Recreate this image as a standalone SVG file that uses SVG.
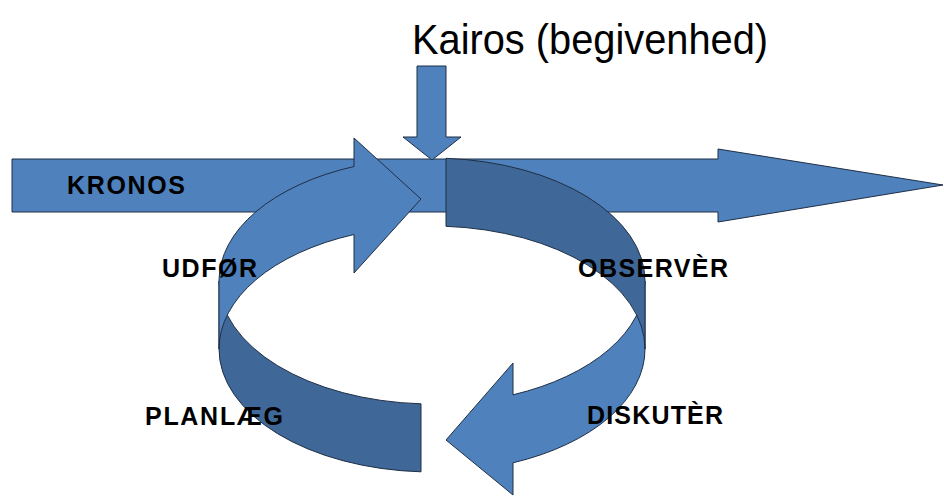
<svg xmlns="http://www.w3.org/2000/svg" width="944" height="497" viewBox="0 0 944 497">
<style>
.light{fill:#4F81BD;stroke:#1F2F45;stroke-width:1;stroke-linejoin:miter}
.dark{fill:#3F6797;stroke:#1F2F45;stroke-width:1;stroke-linejoin:miter}
.lbl{font-family:"Liberation Sans",Arial,sans-serif;font-weight:bold;font-size:25px;fill:#000}
.title{font-family:"Liberation Sans",Arial,sans-serif;font-size:42px;fill:#000}
</style>
<rect width="944" height="497" fill="#fff"/>
<g id="connectors">
<g id="kronos-arrow"><path class="light" d="M12,159 L718,159 L718,149 L943,185 L718,222 L718,212 L12,212 Z"/></g>
<g id="kairos-arrow"><path class="light" d="M417,66 L446,66 L446,137 L461,137 L432,160 L403,137 L417,137 Z"/></g>
<g id="ring-front-left"><path class="dark" d="M421,403.8 A213 123 0 0 1 219,281 L219,349 A213 123 0 0 0 421,471.8 Z"/></g>
<g id="ring-front-right"><path class="light" d="M645,281 A213 123 0 0 1 513,394.8 L513,363 L446,440 L513,495 L513,462.8 A213 123 0 0 0 645,349 Z"/></g>
<g id="ring-back-left"><path class="light" d="M219,281 A213 123 0 0 1 354,166.5 L354,138 L421,199 L354,273 L354,234.5 A213 123 0 0 0 219,349 Z"/></g>
<g id="ring-back-right"><path class="dark" d="M446,158.3 A213 123 0 0 1 645,281 L645,349 A213 123 0 0 0 446,226.3 Z"/></g>
</g>
<g id="kairos"><text class="title" x="412" y="54" textLength="356" lengthAdjust="spacingAndGlyphs">Kairos (begivenhed)</text></g>
<g id="kronos"><text class="lbl" x="67" y="194" textLength="118" lengthAdjust="spacing">KRONOS</text></g>
<g id="udfor"><text class="lbl" x="162" y="277" textLength="95" lengthAdjust="spacing">UDFØR</text></g>
<g id="planlaeg"><text class="lbl" x="145" y="425" textLength="138" lengthAdjust="spacing">PLANLÆG</text></g>
<g id="observer"><text class="lbl" x="578" y="277" textLength="150" lengthAdjust="spacing">OBSERVÈR</text></g>
<g id="diskuter"><text class="lbl" x="587" y="424" textLength="136" lengthAdjust="spacing">DISKUTÈR</text></g>
</svg>
